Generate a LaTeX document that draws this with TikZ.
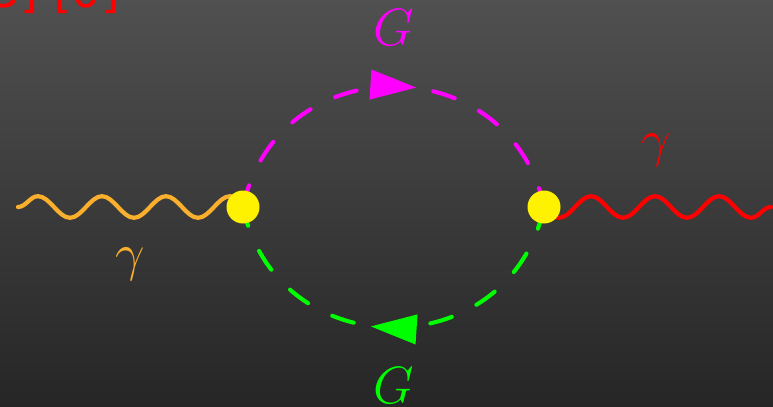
\documentclass[tikz,border=0pt]{standalone}
\usepackage{amsmath}
\usepackage{fontspec}
\usepackage{tikz}
\usetikzlibrary{arrows.meta,backgrounds,decorations.pathmorphing,decorations.markings}
\newfontfamily\cutfont{DejaVu Sans}
\definecolor{bgTop}{RGB}{80,80,80}
\definecolor{bgBottom}{RGB}{38,38,38}
\definecolor{photonOrange}{RGB}{250,175,45}
\definecolor{propMagenta}{RGB}{255,0,255}
\definecolor{propGreen}{RGB}{0,255,0}
\definecolor{photonRed}{RGB}{255,0,0}
\tikzset{
  vertexdot/.style={circle, fill=yellow, inner sep=0pt, minimum size=0.825cm},
  photon/.style={line width=3pt, line cap=round, decorate,
    decoration={snake, segment length=1.6cm, amplitude=0.27cm}},
  propagator/.style={#1, line width=2.9pt, line cap=round, dash pattern=on 16pt off 19.5pt,
    postaction={decorate, solid, decoration={markings,
      mark=at position 0.526 with {\begin{scope}[xshift=0.3cm]\arrow[#1]{Triangle[length=1.15cm, width=0.725cm]}\end{scope}}}}},
  symbol/.style={font=\Huge, scale=1.5, inner sep=0pt}
}
\begin{document}
\begin{tikzpicture}
  \useasboundingbox (0,0) rectangle (19.325,10.15);
  \clip (0,0) rectangle (19.325,10.15);
  % Vertices
  \node[vertexdot] (vL) at (6.075,4.975) {};
  \node[vertexdot] (vR) at (13.6,4.975) {};
  \coordinate (inEnd) at (0.45,4.975);
  \coordinate (outEnd) at (19.275,4.975);
  % Labels
  \node[symbol, propMagenta] (gTop) at (9.84,9.45) {$G$};
  \node[symbol, propGreen] (gBottom) at (9.84,0.5) {$G$};
  \node[symbol, photonRed] (gammaOut) at (16.4,6.4) {$\gamma$};
  \node[symbol, photonOrange] (gammaIn) at (3.25,3.55) {$\gamma$};
  \node[font=\fontsize{33}{36}\cutfont, photonRed, anchor=base west, inner sep=0pt] (cutText) at (-0.22,9.96) {5] [0]};
  % Lines
  \begin{pgfonlayer}{background}
    \shade[top color=bgTop, bottom color=bgBottom] (0,0) rectangle (19.325,10.15);
    \draw[photon, photonOrange] (inEnd) -- ([xshift=-0.1cm]vL.east);
    \draw[photon, photonRed] (outEnd) -- ([xshift=0.1cm]vR.west);
    \draw[propagator=propMagenta] (vL.center) to[bend left=78, looseness=1.4] (vR.center);
    \draw[propagator=propGreen] (vR.center) to[bend left=78, looseness=1.4] (vL.center);
  \end{pgfonlayer}
\end{tikzpicture}
\end{document}
